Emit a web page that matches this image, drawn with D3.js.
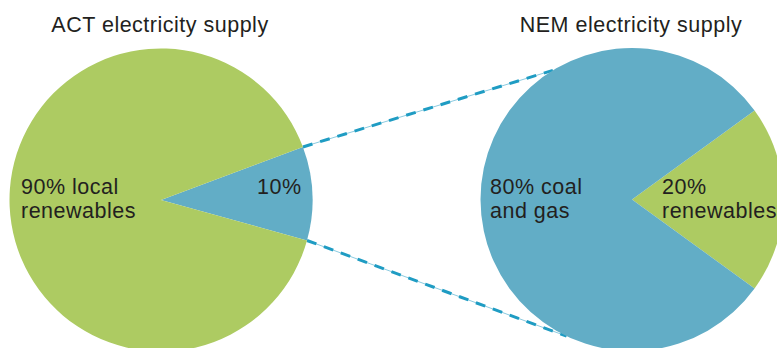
<!DOCTYPE html>
<html>
<head>
<meta charset="utf-8">
<script src="https://cdn.jsdelivr.net/npm/d3@7"></script>
<style>
  body { margin: 0; background: #fff; }
  svg text { font-family: "Liberation Sans", Arial, sans-serif; fill: #231f20; letter-spacing: 0.5px; }
</style>
</head>
<body>
<div id="chart"></div>
<script>
// data
var actTitle = "ACT electricity supply";
var actCategories = ["imported", "local renewables"];
var actValues = [10, 90];
var actLabels = [["10%"], ["90% local", "renewables"]];

var nemTitle = "NEM electricity supply";
var nemCategories = ["renewables", "coal and gas"];
var nemValues = [20, 80];
var nemLabels = [["20%", "renewables"], ["80% coal", "and gas"]];

var colors = new Map([["green", "#adcb62"], ["blue", "#62adc6"]]);
var actColors = [colors.get("blue"), colors.get("green")];
var nemColors = [colors.get("green"), colors.get("blue")];

var svg_width = 777;
var svg_height = 348;
var r = 151.5;
var deg = Math.PI / 180;
var fs = 21.5;

var mysvg = d3.select("#chart")
  .append("svg")
  .attr("width", svg_width)
  .attr("height", svg_height);

var left = {cx: 161, cy: 200};
var right = {cx: 632, cy: 199.5};

var arc = d3.arc().innerRadius(0).outerRadius(r);

function pt(c, a) { return [c.cx + r * Math.sin(a), c.cy - r * Math.cos(a)]; }

var actPie = d3.pie().sort(null).value(function(d){ return d; })
  .startAngle(69.5 * deg).endAngle(429.5 * deg)(actValues);
var nemPie = d3.pie().sort(null).value(function(d){ return d; })
  .startAngle(54 * deg).endAngle(414 * deg)(nemValues);

// connector lines from the 10% wedge to the NEM pie
var conn = [
  [pt(left, actPie[0].startAngle), pt(right, -31.5 * deg)],
  [pt(left, actPie[0].endAngle), pt(right, 205.6 * deg)]
];
var g0 = mysvg.append("g");
g0.selectAll("line.thin").data(conn).enter().append("line")
  .attr("x1", function(d){ return d[0][0]; }).attr("y1", function(d){ return d[0][1]; })
  .attr("x2", function(d){ return d[1][0]; }).attr("y2", function(d){ return d[1][1]; })
  .attr("stroke", "#8ccbe0").attr("stroke-width", 1);
g0.selectAll("line.dash").data(conn).enter().append("line")
  .attr("x1", function(d){ return d[0][0]; }).attr("y1", function(d){ return d[0][1]; })
  .attr("x2", function(d){ return d[1][0]; }).attr("y2", function(d){ return d[1][1]; })
  .attr("stroke", "#1f9cc3").attr("stroke-width", 3)
  .attr("stroke-dasharray", "10,8");

function drawPie(c, pieData, cols) {
  var g = mysvg.append("g").attr("transform", "translate(" + c.cx + "," + c.cy + ")");
  g.selectAll("path").data(pieData).enter().append("path")
    .attr("d", arc)
    .attr("fill", function(d, i){ return cols[i]; });
  return g;
}
var gl = drawPie(left, actPie, actColors);
var gr = drawPie(right, nemPie, nemColors);

// one text element per line, leading as in the original
function addLabel(g, lines, x) {
  g.selectAll(null).data(lines).enter().append("text")
    .attr("font-size", fs)
    .attr("x", x)
    .attr("y", function(d, i){ return -6 + i * 24; })
    .text(function(d){ return d; });
}
addLabel(gl, actLabels[0], 96);
addLabel(gl, actLabels[1], -140);
addLabel(gr, nemLabels[0], 30);
addLabel(gr, nemLabels[1], -142);

// titles
mysvg.append("text").attr("x", left.cx - 1).attr("y", 32)
  .attr("text-anchor", "middle").attr("font-size", fs).text(actTitle);
mysvg.append("text").attr("x", right.cx - 1).attr("y", 32)
  .attr("text-anchor", "middle").attr("font-size", fs).text(nemTitle);
</script>
</body>
</html>
